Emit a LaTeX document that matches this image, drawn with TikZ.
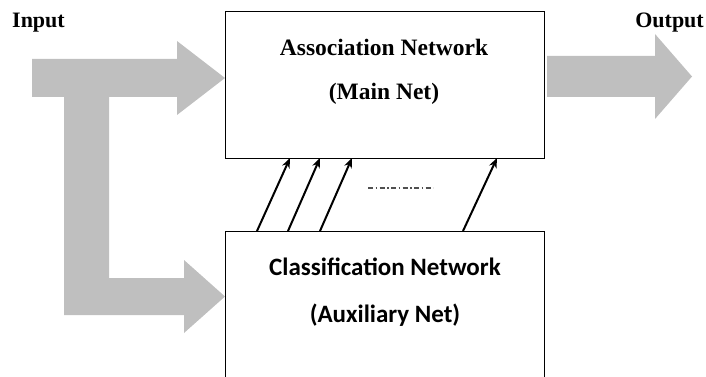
\documentclass[tikz,border=0pt]{standalone}
\usepackage{fontspec}
\setmainfont{Liberation Serif}
\newfontfamily\calibrifont{Carlito}
\usetikzlibrary{positioning, arrows.meta}
\definecolor{bigarrowgray}{RGB}{191,191,191}
\definecolor{dotgray}{RGB}{80,80,80}

\begin{document}
\begin{tikzpicture}[x=1pt,y=-1pt]
\tikzstyle{netbox} = [rectangle, draw=black, line width=1pt, inner sep=0pt]
\tikzstyle{serifbold} = [font=\fontsize{23.5}{27}\selectfont\bfseries, inner sep=0pt]
\tikzstyle{sansbold} = [font=\calibrifont\fontsize{25}{29}\selectfont\bfseries, inner sep=0pt]
\tikzstyle{tag} = [font=\fontsize{22}{26}\selectfont\bfseries, inner sep=0pt]
\tikzstyle{bigarrow} = [fill=bigarrowgray, draw=none]
\tikzstyle{arrow} = [line width=2pt,-{Stealth[length=10pt,width=8pt]}]
\tikzstyle{dashdotline} = [dotgray, line width=1.2pt, dash pattern=on 5pt off 2.5pt on 1.5pt off 2.5pt]

\useasboundingbox (0,0) rectangle (706,377);
\clip (0,0) rectangle (706,377);

%big arrows
\fill[bigarrow] (32,59) -- (177,59) -- (177,41) -- (225,78) -- (177,115) -- (177,97)
  -- (109,97) -- (109,278) -- (184,278) -- (184,260) -- (225,296.5) -- (184,333)
  -- (184,315) -- (64,315) -- (64,97) -- (32,97) -- cycle;
\fill[bigarrow] (547,56) -- (655,56) -- (655,34) -- (692,76.5) -- (655,119) -- (655,97)
  -- (547,97) -- cycle;

%nodes
\node (main) [netbox, minimum width=319, minimum height=146] at (384.5,85) {};
\node (aux)  [netbox, minimum width=319, minimum height=169] at (384.5,315.5) {};

\node (mainname) [serifbold] at (384,47) {Association Network};
\node (mainsub)  [serifbold] at (384,94) {(Main Net)};
\node (auxname)  [sansbold] at (385,267) {Classification Network};
\node (auxsub)   [sansbold] at (385,315) {(Auxiliary Net)};

\node (input)  [tag, anchor=west] at (12,23) {Input};
\node (output) [tag, anchor=east] at (704,23) {Output};

%feed lines
\coordinate (from1) at (257,231);  \coordinate (to1) at (290,158);
\coordinate (from2) at (288,231);  \coordinate (to2) at (320,158);
\coordinate (from3) at (320,231);  \coordinate (to3) at (352,158);
\coordinate (from4) at (463,231);  \coordinate (to4) at (497,158);
\coordinate (gapleft) at (368,188); \coordinate (gapright) at (433,188);

\foreach \i in {1,2,3,4}
  \draw [arrow] (from\i) -- (to\i);
\draw [dashdotline] (gapleft) -- (gapright);

\end{tikzpicture}
\end{document}
